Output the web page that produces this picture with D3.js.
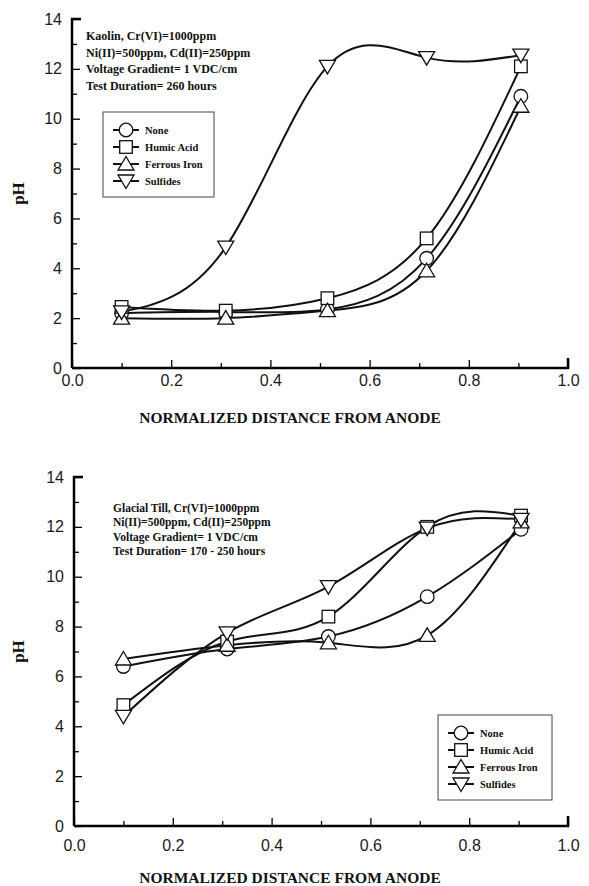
<!DOCTYPE html>
<html>
<head>
<meta charset="utf-8">
<script src="https://cdn.jsdelivr.net/npm/d3@7"></script>
<style>
  body { margin: 0; background: #fff; }
  .tick text { font-family: "Liberation Sans", Arial, sans-serif; font-size: 16px; fill: #1a1a1a; }
  .serif { font-family: "Liberation Serif", "Times New Roman", serif; font-weight: bold; fill: #111; }
</style>
</head>
<body>
<svg id="chart" width="589" height="886"></svg>
<script>
// normalized distance of the sampling sections
var distance = [0.1, 0.31, 0.515, 0.715, 0.905];

// Kaolin panel
var kaolinNone     = [2.2, 2.25, 2.35, 4.4, 10.9];
var kaolinHumic    = [2.45, 2.3, 2.8, 5.2, 12.1];
var kaolinFerrous  = [2.0, 2.0, 2.3, 3.9, 10.5];
var kaolinSulfides = [2.25, 4.85, 12.1, 12.45, 12.55];

// Glacial till panel
var tillNone     = [6.4, 7.1, 7.6, 9.2, 11.9];
var tillHumic    = [4.85, 7.4, 8.4, 12.0, 12.45];
var tillFerrous  = [6.7, 7.25, 7.35, 7.65, 12.2];
var tillSulfides = [4.4, 7.75, 9.6, 11.95, 12.3];

var seriesNames = ["None", "Humic Acid", "Ferrous Iron", "Sulfides"];
var seriesShapes = ["circle", "square", "triangle", "triangleDown"];

var kaolinNotes = ["Kaolin, Cr(VI)=1000ppm", "Ni(II)=500ppm, Cd(II)=250ppm",
                   "Voltage Gradient= 1 VDC/cm", "Test Duration= 260 hours"];
var tillNotes = ["Glacial Till, Cr(VI)=1000ppm", "Ni(II)=500ppm, Cd(II)=250ppm",
                 "Voltage Gradient= 1 VDC/cm", "Test Duration= 170 - 250 hours"];

var xMajor = [0, 0.2, 0.4, 0.6, 0.8, 1.0];
var xMinor = [0.1, 0.3, 0.5, 0.7, 0.9];
var yMajor = [0, 2, 4, 6, 8, 10, 12, 14];
var yMinor = [1, 3, 5, 7, 9, 11, 13];

var svg = d3.select("#chart");

function drawMarker(g, shape, cx, cy) {
    if (shape == "circle") {
        g.append("circle").attr("cx", cx).attr("cy", cy).attr("r", 6.8);
    } else if (shape == "square") {
        g.append("rect").attr("x", cx - 6.3).attr("y", cy - 6.3).attr("width", 12.6).attr("height", 12.6);
    } else if (shape == "triangle") {
        g.append("path").attr("d", "M" + cx + "," + (cy - 7.5) + "L" + (cx + 8) + "," + (cy + 6) + "L" + (cx - 8) + "," + (cy + 6) + "Z");
    } else {
        g.append("path").attr("d", "M" + cx + "," + (cy + 7.5) + "L" + (cx + 8) + "," + (cy - 6) + "L" + (cx - 8) + "," + (cy - 6) + "Z");
    }
}

function drawPanel(p) {
    var x = d3.scaleLinear().domain([0, 1]).range([p.left, p.right]);
    var y = d3.scaleLinear().domain([0, 14]).range([p.bottom, p.top]);

    // axes: ticks point into the plot
    svg.append("g").attr("transform", "translate(0," + p.bottom + ")")
        .call(d3.axisBottom(x).tickValues(xMajor).tickSize(-8).tickPadding(p.xPad).tickFormat(d3.format(".1f")))
        .call(function(g) {
            g.select(".domain").attr("stroke-width", 2.5).attr("d", "M" + p.left + ",0H" + p.right + "V-10");
            g.selectAll(".tick line").attr("stroke-width", 1.3);
            g.selectAll(".tick text").attr("dy", "0.71em");
        });
    svg.append("g").attr("transform", "translate(0," + p.bottom + ")")
        .call(d3.axisBottom(x).tickValues(xMinor).tickSize(-5).tickFormat(""))
        .call(function(g) { g.select(".domain").remove(); g.selectAll(".tick line").attr("stroke-width", 1.3); });

    svg.append("g").attr("transform", "translate(" + p.left + ",0)")
        .call(d3.axisLeft(y).tickValues(yMajor).tickSize(-8).tickPadding(10))
        .call(function(g) {
            g.select(".domain").attr("stroke-width", 2.5).attr("d", "M0," + p.bottom + "V" + p.top + "H9");
            g.selectAll(".tick line").attr("stroke-width", 1.3);
        });
    svg.append("g").attr("transform", "translate(" + p.left + ",0)")
        .call(d3.axisLeft(y).tickValues(yMinor).tickSize(-5).tickFormat(""))
        .call(function(g) { g.select(".domain").remove(); g.selectAll(".tick line").attr("stroke-width", 1.3); });

    // axis titles
    svg.append("text").attr("class", "serif")
        .attr("x", p.titleX).attr("y", p.bottom + p.titleOff)
        .attr("text-anchor", "middle").style("font-size", "15.5px")
        .text("NORMALIZED DISTANCE FROM ANODE");
    svg.append("text").attr("class", "serif")
        .attr("transform", "translate(24," + ((p.top + p.bottom) / 2) + ") rotate(-90)")
        .attr("text-anchor", "middle").style("font-size", "17px")
        .text("pH");

    // curves then markers
    var line = d3.line()
        .x(function(d) { return x(d[0]); })
        .y(function(d) { return y(d[1]); })
        .curve(d3.curveNatural);

    p.series.forEach(function(vals) {
        svg.append("path")
            .datum(d3.zip(distance, vals))
            .attr("fill", "none").attr("stroke", "#111").attr("stroke-width", 2)
            .attr("d", line);
    });
    p.series.forEach(function(vals, i) {
        var mg = svg.append("g").attr("fill", "#fff").attr("stroke", "#111").attr("stroke-width", 1.3);
        d3.zip(distance, vals).forEach(function(d) {
            drawMarker(mg, seriesShapes[i], x(d[0]), y(d[1]));
        });
    });

    // conditions text
    svg.append("g").selectAll("text").data(p.notes).enter().append("text")
        .attr("class", "serif")
        .attr("x", p.noteX)
        .attr("y", function(d, i) { return p.noteY + i * p.noteStep; })
        .style("font-size", p.noteSize + "px")
        .text(function(d) { return d; });

    // legend
    var lg = svg.append("g").attr("transform", "translate(" + p.legend[0] + "," + p.legend[1] + ")");
    lg.append("rect").attr("width", p.legend[2]).attr("height", p.legend[3])
        .attr("fill", "#fff").attr("stroke", "#444").attr("stroke-width", 1);
    seriesNames.forEach(function(name, i) {
        var ly = 18 + i * 17;
        lg.append("line").attr("x1", 10).attr("x2", 36).attr("y1", ly).attr("y2", ly)
            .attr("stroke", "#111").attr("stroke-width", 2);
        var mg = lg.append("g").attr("fill", "#fff").attr("stroke", "#111").attr("stroke-width", 1.3);
        drawMarker(mg, seriesShapes[i], 23, ly);
        lg.append("text").attr("class", "serif").attr("x", 42).attr("y", ly + 4)
            .style("font-size", "10.5px").text(name);
    });
}

drawPanel({
    left: 72, right: 568, top: 19, bottom: 368, titleX: 290, xPad: 7, titleOff: 55,
    series: [kaolinNone, kaolinHumic, kaolinFerrous, kaolinSulfides],
    notes: kaolinNotes, noteX: 86, noteY: 40, noteStep: 16.7, noteSize: 12,
    legend: [103, 112, 111, 85]
});

drawPanel({
    left: 74, right: 568, top: 477, bottom: 826, titleX: 290, xPad: 14, titleOff: 57,
    series: [tillNone, tillHumic, tillFerrous, tillSulfides],
    notes: tillNotes, noteX: 113, noteY: 512, noteStep: 14.3, noteSize: 11.5,
    legend: [438, 715, 114, 85]
});
</script>
</body>
</html>
